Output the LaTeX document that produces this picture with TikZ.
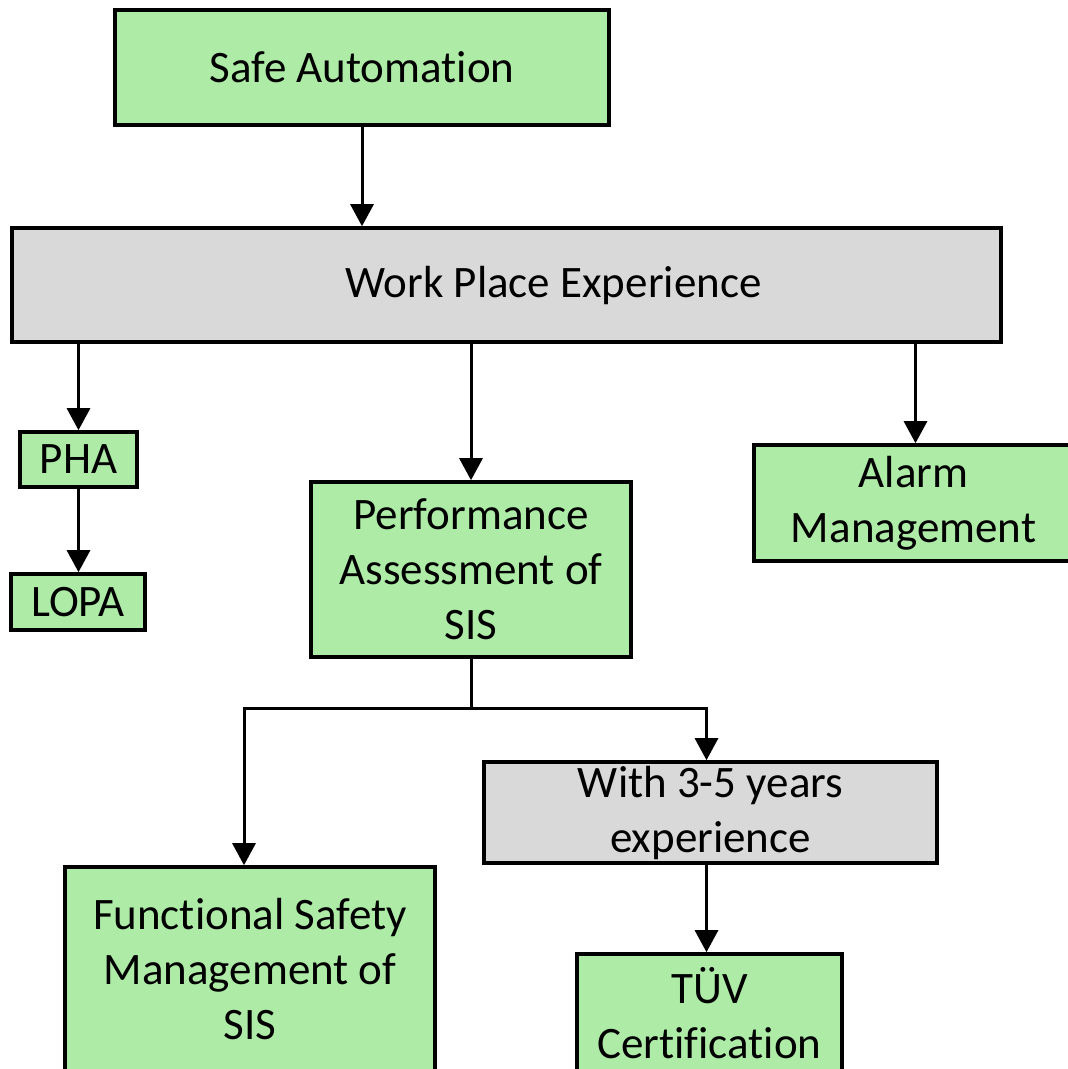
\documentclass[tikz,border=0pt]{standalone}
\usepackage{fontspec}
\setmainfont{Carlito}[Ligatures={NoCommon}]
\usetikzlibrary{arrows.meta}
\definecolor{boxgreen}{RGB}{174,235,167}
\definecolor{boxgray}{RGB}{217,217,217}
\tikzset{
  box/.style={draw=black, line width=3.6pt, inner sep=0pt, align=center,
    font=\fontsize{45}{55}\selectfont, text=black},
  greenbox/.style={box, fill=boxgreen},
  graybox/.style={box, fill=boxgray},
  conn/.style={line width=3pt, -{Triangle[length=22pt,width=23pt]}},
  plain/.style={line width=3pt},
}
\begin{document}
\begin{tikzpicture}[x=1pt,y=-1pt]
\useasboundingbox (0,0) rectangle (1068,1069);
\node[greenbox, minimum width=494pt, minimum height=115pt] (safe) at (362,67.5) {Safe Automation};
\node[graybox, minimum width=989pt, minimum height=114pt] (work) at (506.5,285) {\hspace*{94pt}Work Place Experience};
\node[greenbox, minimum width=117pt, minimum height=55pt] (pha) at (78.5,459.5) {PHA};
\node[greenbox, minimum width=134pt, minimum height=56pt] (lopa) at (78,602) {LOPA};
\node[greenbox, minimum width=320pt, minimum height=175pt] (perf) at (471,569.5) {Performance\\Assessment of\\SIS};
\node[greenbox, minimum width=319pt, minimum height=116pt] (alarm) at (913.5,503) {Alarm\\Management};
\node[graybox, minimum width=453pt, minimum height=101pt] (with) at (710.5,812.5) {With 3-5 years\\experience};
\node[greenbox, minimum width=370pt, minimum height=205pt] (fsm) at (250,969.5) {Functional Safety\\Management of\\SIS};
\node[greenbox, minimum width=265pt, minimum height=118pt] (tuv) at (709.5,1013) {TÜV\\Certification};
\coordinate (br) at (471,708);
\draw[conn] (safe.south) -- (safe.south |- work.north);
\draw[conn] (pha.north |- work.south) -- (pha.north);
\draw[conn] (perf.north |- work.south) -- (perf.north);
\draw[conn] ([xshift=2pt]alarm.north |- work.south) -- ([xshift=2pt]alarm.north);
\draw[conn] (pha.south) -- (pha.south |- lopa.north);
\draw[plain] (perf.south) -- (br);
\draw[conn] (br) -| ([xshift=-6pt]fsm.north);
\draw[conn] (br) -| ([xshift=-4pt]with.north);
\draw[conn] ([xshift=-4pt]with.south) -- ([xshift=-4pt]with.south |- tuv.north);
\end{tikzpicture}
\end{document}
